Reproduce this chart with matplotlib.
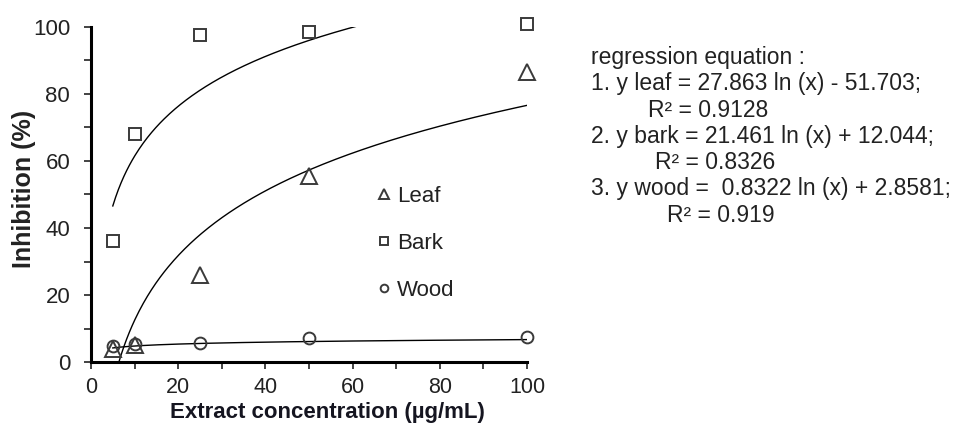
import numpy as np
import matplotlib
matplotlib.use('Agg')
import matplotlib.pyplot as plt
from matplotlib.ticker import MultipleLocator

plt.rcParams['font.family'] = ['Liberation Sans', 'DejaVu Sans']

# data
conc = [5, 10, 25, 50, 100]
leaf = [4, 5, 26, 55.5, 86.5]
bark = [36, 68, 97.5, 98.5, 101]
wood = [4.8, 5.5, 5.8, 7.1, 7.6]

# log trendlines y = a ln(x) + b, from the printed equations
leaf_fit = [27.863, -51.703]
bark_fit = [21.461, 12.044]
wood_fit = [0.8322, 2.8581]

eq_lines = ["regression equation :",
            "1. y leaf = 27.863 ln (x) - 51.703;",
            "R\u00b2 = 0.9128",
            "2. y bark = 21.461 ln (x) + 12.044;",
            "R\u00b2 = 0.8326",
            "3. y wood =  0.8322 ln (x) + 2.8581;",
            "R\u00b2 = 0.919"]
eq_x = [591, 591, 648, 591, 655, 591, 667]

W, H = 955, 423
fig = plt.figure(figsize=(W/100, H/100), dpi=100)
ax = fig.add_axes([91/W, (H-362)/H, 436/W, 335/H])

xs = np.linspace(conc[0], conc[-1], 300)
for fit in (leaf_fit, bark_fit, wood_fit):
    ax.plot(xs, fit[0]*np.log(xs) + fit[1], color='black', lw=1.0)

mk = dict(ls='none', mfc='none', mec='#3a3a3a', mew=1.4, clip_on=False, zorder=3)
ax.plot(conc, leaf, marker='^', ms=11, label='Leaf', **mk)
ax.plot(conc, bark, marker='s', ms=8.5, label='Bark', **mk)
ax.plot(conc, wood, marker='o', ms=8.5, label='Wood', **mk)

ax.set_xlim(0, 100)
ax.set_ylim(0, 100)
for s in ['top', 'right']:
    ax.spines[s].set_visible(False)
for s in ['left', 'bottom']:
    ax.spines[s].set_linewidth(2.2)
ax.xaxis.set_major_locator(MultipleLocator(20))
ax.xaxis.set_minor_locator(MultipleLocator(10))
ax.yaxis.set_major_locator(MultipleLocator(20))
ax.yaxis.set_minor_locator(MultipleLocator(10))
ax.tick_params(which='both', direction='out', length=5, width=1.2, color='#222')
ax.tick_params(axis='x', labelsize=15.5, pad=6, labelcolor='#222')
ax.tick_params(axis='y', labelsize=16, pad=10, labelcolor='#222')

# reference crops this label at the bottom edge; keep it just inside
ax.set_xlabel("Extract concentration (\u00b5g/mL)", fontsize=16, fontweight='bold', color='#151520')
ax.xaxis.label.set_va('bottom')
ax.xaxis.set_label_coords((327-91)/436, (362-422.5)/335)
ax.set_ylabel("Inhibition (%)", fontsize=18, fontweight='bold', color='#222')
ax.yaxis.label.set_va('center')
ax.yaxis.set_label_coords((24-91)/436, (362-189)/335)

ax.legend(loc='upper left', bbox_to_anchor=((378-91)/436, (362-186)/335),
          frameon=False, markerscale=0.65, handlelength=0.5, handletextpad=0.35,
          labelspacing=1.16, borderpad=0, borderaxespad=0, fontsize=16,
          labelcolor='#222')

for i, (t, x) in enumerate(zip(eq_lines, eq_x)):
    fig.text(x/W, 1 - (64 + 26.3*i)/H, t, fontsize=16.5, color='#222',
             ha='left', va='baseline')

fig.savefig('out.png', dpi=100)
